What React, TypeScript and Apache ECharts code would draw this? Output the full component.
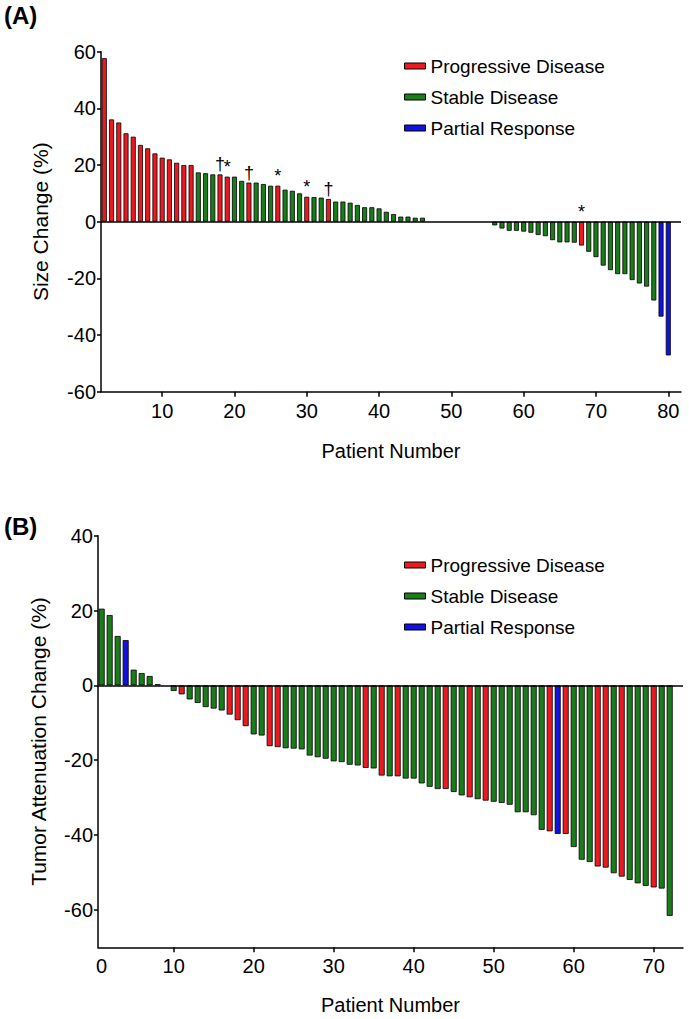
import React, { useEffect, useRef } from 'react';
import * as echarts from 'echarts';

// ---------- Panel A: size change ----------
const firstPatientA = 2;
const sizeChange: (number | null)[] = [
  57.7, 36.1, 35.0, 31.2, 30.0, 27.1, 25.9, 24.1, 22.6, 22.0,
  20.8, 20.0, 20.0, 17.4, 17.1, 16.7, 16.7, 15.9, 15.9, 14.4,
  13.8, 13.8, 13.3, 12.7, 12.7, 11.3, 10.9, 10.0, 8.8, 8.7,
  8.5, 8.0, 7.1, 7.1, 6.7, 5.9, 5.1, 5.1, 4.7, 3.5,
  2.7, 1.8, 1.8, 1.4, 1.4,
  null, null, null, null, null, null, null, null, null,
  -1.3, -2.4, -3.2, -3.2, -3.5, -3.9, -4.7, -5.1, -6.5, -7.3,
  -7.3, -7.4, -8.4, -10.6, -12.5, -15.5, -17.1, -18.5, -18.5, -20.6,
  -21.8, -22.9, -27.8, -33.5, -47.2,
];
// P = progressive, S = stable, R = partial response, - = no bar
const responseA = (
  'PPPPPPPPPPPPP' + 'SSS' + 'PP' + 'SS' + 'P' + 'SSS' + 'P' + 'SSS' + 'P' + 'SS' + 'P' +
  'SSSSSSSSSSSSS' + '---------' + 'SSSSSSSSSSSS' + 'P' + 'SSSSSSSSSS' + 'RR'
).split('');
const marksA = [
  { patient: 18, mark: '†' },
  { patient: 19, mark: '*' },
  { patient: 22, mark: '†' },
  { patient: 26, mark: '*' },
  { patient: 30, mark: '*' },
  { patient: 33, mark: '†' },
  { patient: 68, mark: '*' },
];
const xTicksA = [10, 20, 30, 40, 50, 60, 70, 80];

// ---------- Panel B: tumor attenuation change ----------
const firstPatientB = 1;
const attenuationChange: (number | null)[] = [
  20.5, 18.8, 13.2, 12.1, 4.2, 3.3, 2.5, 0.3, null, -1.5,
  -2.4, -3.75, -4.7, -5.8, -6.2, -6.7, -7.8, -9.3, -10.9, -13.1,
  -13.4, -16.25, -16.5, -16.8, -16.9, -17.1, -18.75, -19.2, -19.6, -20.3,
  -20.5, -21.2, -21.4, -22.05, -22.2, -24.1, -24.3, -24.3, -24.9, -24.9,
  -26.2, -27.1, -27.7, -27.7, -28.5, -29.4, -29.9, -30.4, -30.8, -31.1,
  -31.4, -31.9, -33.9, -33.9, -34.7, -38.6, -39.0, -39.7, -39.7, -43.2,
  -46.6, -47.2, -48.4, -48.7, -50.2, -51.1, -52.0, -52.9, -53.6, -54.0,
  -54.3, -61.6,
];
const responseB = (
  'SSS' + 'R' + 'SSSS' + '-' + 'S' + 'P' + 'SSSSS' + 'PPP' + 'SS' + 'PP' +
  'SSSSSSSSSS' + 'P' + 'S' + 'P' + 'S' + 'P' + 'SSSSS' + 'P' + 'SS' + 'P' + 'S' + 'P' +
  'SSSSSSS' + 'P' + 'R' + 'P' + 'SSS' + 'PP' + 'S' + 'P' + 'SSS' + 'P' + 'SS'
).split('');
const xTicksB = [10, 20, 30, 40, 50, 60, 70];
const xLabelsB = [1, 10, 20, 30, 40, 50, 60, 70]; // first label "0" sits at the axis start
const yTicksB = [-60, -40, -20, 0, 20, 40];

const groups = [
  { key: 'P', name: 'Progressive Disease', color: '#ec1a1f' },
  { key: 'S', name: 'Stable Disease', color: '#1a7d1a' },
  { key: 'R', name: 'Partial Response', color: '#1212e0' },
];

const FONT = 'Liberation Sans, Arial, Helvetica, sans-serif';

function buildSeries(
  values: (number | null)[],
  status: string[],
  first: number,
  axisIndex: number,
  barWidth: number,
  marks: { patient: number; mark: string }[]
) {
  return groups.map((g, gi) => {
    const data: any[] = [];
    values.forEach((v, i) => {
      if (v == null || status[i] !== g.key) return;
      const patient = i + first;
      const m = marks.find((k) => k.patient === patient);
      const item: any = { value: [patient, v] };
      if (m) {
        item.label = {
          show: true,
          position: 'top',
          distance: 1,
          formatter: m.mark,
          fontSize: 18,
          color: '#000',
          fontFamily: FONT,
        };
      }
      data.push(item);
    });
    const s: any = {
      type: 'bar',
      name: g.name,
      xAxisIndex: axisIndex,
      yAxisIndex: axisIndex,
      barWidth,
      barGap: '-100%',
      data,
      itemStyle: { color: g.color, borderColor: '#000', borderWidth: 0.8 },
    };
    if (gi === 0) {
      s.markLine = {
        silent: true,
        symbol: 'none',
        label: { show: false },
        lineStyle: { color: '#000', width: 1.5, type: 'solid' },
        data: [{ yAxis: 0 }],
      };
    }
    return s;
  });
}

const axisLine = { show: true, onZero: false, lineStyle: { color: '#000', width: 1.5 } };
const tickStyle = { lineStyle: { color: '#000', width: 1.5 } };
const labelStyle = { fontSize: 20, color: '#000', fontFamily: FONT };
const nameStyle = { fontSize: 20, color: '#000', fontFamily: FONT };

const legendBase = {
  orient: 'vertical',
  left: 399,
  itemWidth: 21,
  itemHeight: 6,
  itemGap: 11,
  icon: 'rect',
  itemStyle: { borderColor: '#000', borderWidth: 1 },
  textStyle: { fontSize: 19, lineHeight: 20, color: '#000', fontFamily: FONT },
  data: groups.map((g) => g.name),
};

export default function App() {
  const ref = useRef<HTMLDivElement>(null);
  useEffect(() => {
    if (!ref.current) return;
    const chart = echarts.init(ref.current, undefined, { renderer: 'svg' });
    const option: any = {
      animation: false,
      backgroundColor: '#fff',
      grid: [
        { left: 101, top: 51.7, width: 580, height: 340 },
        { left: 98, top: 535.7, width: 585, height: 411.6 },
      ],
      legend: [
        { ...legendBase, top: 51 },
        { ...legendBase, top: 550 },
      ],
      xAxis: [
        {
          type: 'value',
          gridIndex: 0,
          min: 1.54,
          max: 81.76,
          axisLine,
          axisTick: { show: true, customValues: xTicksA, length: 5, ...tickStyle },
          axisLabel: { customValues: xTicksA, margin: 9, ...labelStyle },
          splitLine: { show: false },
          name: 'Patient Number',
          nameLocation: 'middle',
          nameGap: 49,
          nameTextStyle: nameStyle,
        },
        {
          type: 'value',
          gridIndex: 1,
          min: 0.54,
          max: 73.66,
          axisLine,
          axisTick: { show: true, customValues: xTicksB, length: 5, ...tickStyle },
          axisLabel: {
            customValues: xLabelsB,
            margin: 9,
            ...labelStyle,
            formatter: (v: number) => (v < 5 ? '0' : String(v)),
          },
          splitLine: { show: false },
          name: 'Patient Number',
          nameLocation: 'middle',
          nameGap: 48,
          nameTextStyle: nameStyle,
        },
      ],
      yAxis: [
        {
          type: 'value',
          gridIndex: 0,
          min: -60,
          max: 60,
          interval: 20,
          axisLine,
          axisTick: { show: true, length: 4, ...tickStyle },
          axisLabel: { margin: 5, ...labelStyle },
          splitLine: { show: false },
          name: 'Size Change (%)',
          nameLocation: 'middle',
          nameGap: 50,
          nameRotate: 90,
          nameTextStyle: { ...nameStyle, fontSize: 21 },
        },
        {
          type: 'value',
          gridIndex: 1,
          min: -70,
          max: 40,
          axisLine,
          axisTick: { show: true, customValues: yTicksB, length: 4, ...tickStyle },
          axisLabel: { customValues: yTicksB, margin: 5, ...labelStyle },
          splitLine: { show: false },
          name: 'Tumor Attenuation Change (%)',
          nameLocation: 'middle',
          nameGap: 49,
          nameRotate: 90,
          nameTextStyle: { ...nameStyle, fontSize: 21 },
        },
      ],
      graphic: [
        {
          type: 'text',
          left: 4,
          top: 3,
          style: { text: '(A)', fontSize: 24, fontWeight: 'bold', fill: '#000', fontFamily: FONT },
        },
        {
          type: 'text',
          left: 4,
          top: 514,
          style: { text: '(B)', fontSize: 24, fontWeight: 'bold', fill: '#000', fontFamily: FONT },
        },
      ],
      series: [
        ...buildSeries(sizeChange, responseA, firstPatientA, 0, 5, marksA),
        ...buildSeries(attenuationChange, responseB, firstPatientB, 1, 6, []),
      ],
    };
    chart.setOption(option);
    return () => chart.dispose();
  }, []);
  return (
    <div
      ref={ref}
      style={{ position: 'absolute', left: 0, top: 0, width: 689, height: 1019, background: '#fff' }}
    />
  );
}
